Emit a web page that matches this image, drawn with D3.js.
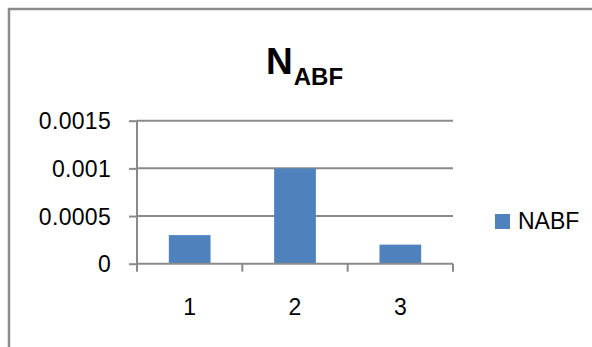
<!DOCTYPE html>
<html><head><meta charset="utf-8">
<script src="https://cdn.jsdelivr.net/npm/d3@7"></script>
<style>html,body{margin:0;padding:0;background:#fff;}svg{display:block;}</style>
</head><body>
<script>
const categories = ["1", "2", "3"];
const values = [0.0003, 0.001, 0.0002];
const yTicks = [0, 0.0005, 0.001, 0.0015];
const yTickLabels = ["0", "0.0005", "0.001", "0.0015"];
const seriesName = "NABF";

const W = 592, H = 347;
const svg = d3.select("body").append("svg").attr("width", W).attr("height", H);
const font = "'Liberation Sans', Arial, sans-serif";

// outer border (extends beyond canvas on right/bottom)
svg.append("rect").attr("x", 9).attr("y", 9).attr("width", 700).attr("height", 500)
  .attr("fill", "none").attr("stroke", "#8c8c8c").attr("stroke-width", 2.5);

const pLeft = 137, pRight = 453, pTop = 120.7, pBottom = 263.7;
const x = d3.scaleBand().domain(categories).range([pLeft, pRight]).paddingInner(0.604).paddingOuter(0.302);
const xb = d3.scaleBand().domain(categories).range([pLeft, pRight]);
const y = d3.scaleLinear().domain([0, 0.0015]).range([pBottom, pTop]);

// gridlines
svg.append("g").selectAll("line").data(yTicks.slice(1)).join("line")
  .attr("x1", pLeft).attr("x2", pRight).attr("y1", d => y(d)).attr("y2", d => y(d))
  .attr("stroke", "#8a8a8a").attr("stroke-width", 2);

// bars
svg.append("g").selectAll("rect").data(values).join("rect")
  .attr("x", (d, i) => x(categories[i])).attr("width", x.bandwidth())
  .attr("y", d => y(d)).attr("height", d => pBottom - y(d))
  .attr("fill", "#4f81bd");

// y axis
const yAxis = d3.axisLeft(y).tickValues(yTicks).tickSize(8).tickPadding(18)
  .tickFormat((d, i) => yTickLabels[i]);
const gy = svg.append("g").attr("transform", `translate(${pLeft},0)`).call(yAxis);
gy.select(".domain").attr("stroke", "#8a8a8a").attr("stroke-width", 2).attr("d", `M0,${pTop}V${pBottom + 8}`);
gy.selectAll(".tick line").attr("stroke", "#8a8a8a").attr("stroke-width", 2);
gy.selectAll(".tick text").attr("font-family", font).attr("font-size", 23).attr("fill", "#000")
  .attr("dy", "0.36em").attr("letter-spacing", 0.3);

// x axis
const xAxis = d3.axisBottom(xb).tickSize(0).tickPadding(0);
const gx = svg.append("g").attr("transform", `translate(0,${pBottom})`).call(xAxis);
gx.select(".domain").attr("stroke", "#8a8a8a").attr("stroke-width", 2).attr("d", `M${pLeft},0H${pRight}`);
gx.selectAll(".tick text").attr("font-family", font).attr("font-size", 23).attr("fill", "#000")
  .attr("y", 51.5).attr("dy", 0);
// category boundary ticks
svg.append("g").selectAll("line").data(categories.slice(1).concat(["end"])).join("line")
  .attr("x1", (d, i) => i < 2 ? xb(d) : pRight).attr("x2", (d, i) => i < 2 ? xb(d) : pRight)
  .attr("y1", pBottom).attr("y2", pBottom + 8).attr("stroke", "#8a8a8a").attr("stroke-width", 2);

// title
const title = svg.append("text").attr("x", 266).attr("y", 74).attr("font-family", font)
  .attr("font-weight", "bold").attr("fill", "#000");
title.append("tspan").attr("font-size", 37).text("N");
title.append("tspan").attr("font-size", 24).attr("dx", 1).attr("dy", 11).text("ABF");

// legend
svg.append("rect").attr("x", 495).attr("y", 214).attr("width", 15).attr("height", 15).attr("fill", "#4f81bd");
svg.append("text").attr("x", 518).attr("y", 228.5).attr("font-family", font).attr("font-size", 23)
  .attr("fill", "#000").text(seriesName);
</script>
</body></html>
